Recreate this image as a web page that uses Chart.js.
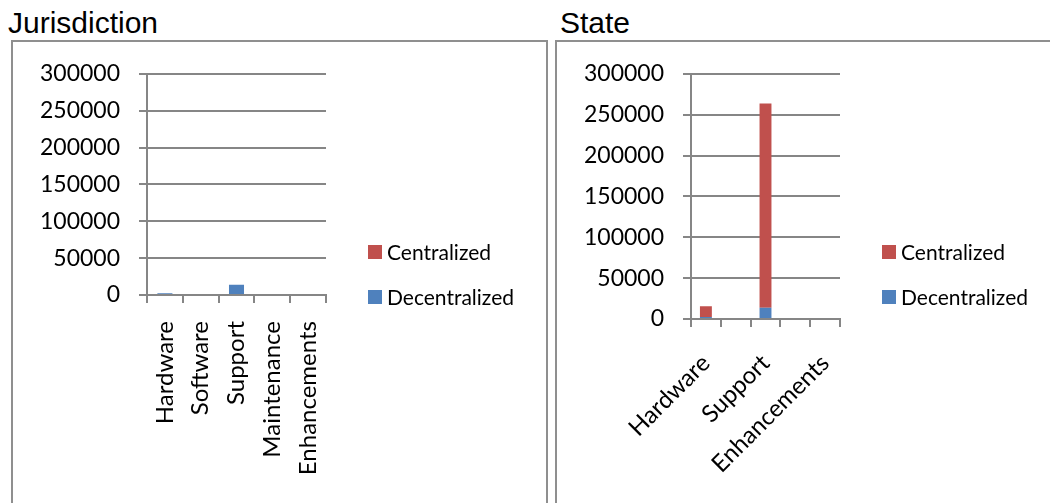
<!DOCTYPE html>
<html>
<head>
<meta charset="utf-8">
<script src="https://cdn.jsdelivr.net/npm/chart.js@4.4.1/dist/chart.umd.min.js"></script>
<style>
  html, body { margin: 0; padding: 0; background: #fff; }
  body { width: 1050px; height: 503px; position: relative; overflow: hidden; }
  .title { position: absolute; font-family: "Liberation Sans", Arial, sans-serif; font-size: 30px; line-height: 30px; color: #000; white-space: nowrap; }
  .panel { position: absolute; top: 40px; height: 520px; border: 2px solid #8f8f8f; box-sizing: border-box; }
  canvas { position: absolute; }
  .legend { position: absolute; font-family: Lato, "Open Sans", sans-serif; font-size: 21px; color: #000; }
  .legend .item { position: absolute; left: 0; white-space: nowrap; height: 14px; }
  .legend .sw { position: absolute; left: 0; top: 0; width: 14px; height: 14px; }
  .legend .tx { position: absolute; left: 19px; top: -8px; line-height: 30px; height: 30px; }
</style>
</head>
<body>
<div class="title" style="left:8px; top:8px;">Jurisdiction</div>
<div class="title" style="left:560px; top:8px;">State</div>
<div class="panel" style="left:11px; width:537px;"></div>
<div class="panel" style="left:555px; width:520px;"></div>

<canvas id="jur" width="534" height="462" style="left:12px; top:41px;"></canvas>
<canvas id="state" width="494" height="462" style="left:556px; top:41px;"></canvas>

<div class="legend" id="legJur" style="left:368px; top:245px;"></div>
<div class="legend" id="legState" style="left:882px; top:245px;"></div>

<script>
// Cost categories shared by both panels
const categories = ['Hardware', 'Software', 'Support', 'Maintenance', 'Enhancements'];

// Jurisdiction costs by category
const jurDecentralized = [2400, 0, 13800, 0, 0];
const jurCentralized   = [0, 0, 0, 0, 0];

// State costs by category
const stateDecentralized = [2400, 0, 13800, 0, 0];
const stateCentralized   = [13200, 0, 250000, 0, 0];

// Value axis
const yMin = 0;
const yMax = 300000;
const yStep = 50000;

const seriesNames = ['Decentralized', 'Centralized'];
const seriesColors = ['#4F81BD', '#C0504D'];

const gridColor = '#868686';
const yFont = { family: 'Lato, "Open Sans", sans-serif', size: 23 };
const xFont = { family: 'Lato, "Open Sans", sans-serif', size: 24 };

function buildLegend(el) {
  // legend lists the top stack segment first
  const order = [1, 0];
  order.forEach((s, i) => {
    const item = document.createElement('div');
    item.className = 'item';
    item.style.top = (i * 45) + 'px';
    const sw = document.createElement('div');
    sw.className = 'sw';
    sw.style.background = seriesColors[s];
    const tx = document.createElement('div');
    tx.className = 'tx';
    tx.textContent = seriesNames[s];
    item.appendChild(sw);
    item.appendChild(tx);
    el.appendChild(item);
  });
}

function makeChart(id, dec, cen, opts) {
  return new Chart(document.getElementById(id), {
    type: 'bar',
    data: {
      labels: categories,
      datasets: [
        { label: seriesNames[0], data: dec, backgroundColor: seriesColors[0], borderWidth: 0 },
        { label: seriesNames[1], data: cen, backgroundColor: seriesColors[1], borderWidth: 0 }
      ]
    },
    options: {
      responsive: false,
      animation: false,
      devicePixelRatio: 1,
      categoryPercentage: 1,
      barPercentage: opts.barPct,
      layout: { padding: { left: 0, top: 28, right: opts.padRight, bottom: 0 } },
      plugins: { legend: { display: false }, tooltip: { enabled: false } },
      scales: {
        x: {
          stacked: true,
          offset: true,
          afterFit: s => { s.height = opts.xHeight; },
          grid: {
            offset: true, display: true, drawOnChartArea: false, drawTicks: true,
            tickLength: 8, color: gridColor, lineWidth: 2
          },
          border: { display: true, color: gridColor, width: 2 },
          ticks: {
            color: '#000', font: xFont, autoSkip: false,
            minRotation: opts.rotation, maxRotation: opts.rotation,
            padding: opts.xPad,
            callback: function (v, i) {
              return (i % opts.labelEvery === 0) ? this.getLabelForValue(v) : '';
            }
          }
        },
        y: {
          stacked: true,
          min: yMin, max: yMax,
          afterFit: s => { s.width = 135; },
          grid: { color: gridColor, lineWidth: 2, drawTicks: true, tickLength: 8 },
          border: { display: true, color: gridColor, width: 2 },
          ticks: {
            stepSize: yStep, color: '#000', font: yFont, padding: 19,
            callback: v => String(v)
          }
        }
      }
    }
  });
}

makeChart('jur', jurDecentralized, jurCentralized,
  { barPct: 0.42, padRight: 220, xHeight: 208, rotation: 90, xPad: 18, labelEvery: 1 });
makeChart('state', stateDecentralized, stateCentralized,
  { barPct: 0.40, padRight: 210, xHeight: 184, rotation: 45, xPad: 22, labelEvery: 2 });

buildLegend(document.getElementById('legJur'));
buildLegend(document.getElementById('legState'));
</script>
</body>
</html>
